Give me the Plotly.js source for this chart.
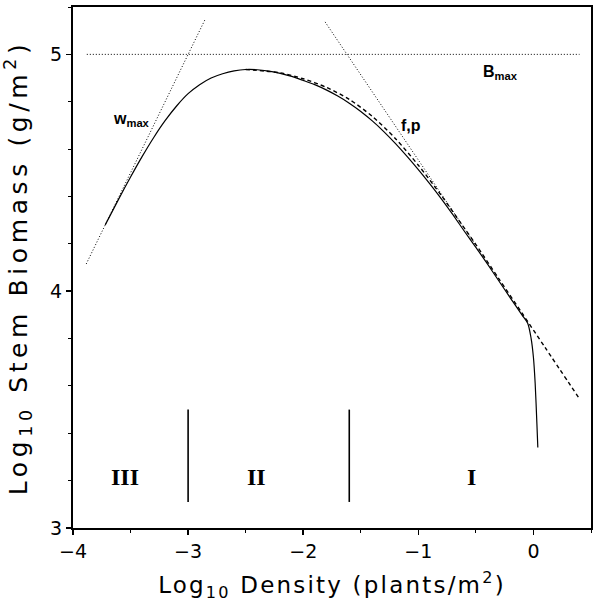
<!DOCTYPE html>
<html>
<head>
<meta charset="utf-8">
<script src="https://cdn.plot.ly/plotly-3.0.1.min.js"></script>
<style>
html,body{margin:0;padding:0;background:#fff;}
.xtitle{letter-spacing:2.2px;}
.ytitle{letter-spacing:4.6px;}
</style>
</head>
<body>
<div id="chart" style="width:596px;height:602px;"></div>
<script>
// Solid model curve
const solidX = [-3.72,-3.6,-3.5,-3.4,-3.3,-3.2,-3.1,-3.0,-2.9,-2.8,-2.7,-2.6,-2.5,-2.4,-2.3,-2.2,-2.1,-2.0,-1.9,-1.8,-1.7,-1.6,-1.5,-1.4,-1.3,-1.2,-1.1,-1.0,-0.9,-0.8,-0.7,-0.6,-0.5,-0.4,-0.3,-0.2,-0.1,-0.05,-0.02,0.0,0.015,0.03,0.038];
const solidY = [4.28,4.392,4.482,4.568,4.648,4.72,4.782,4.834,4.872,4.9,4.918,4.93,4.936,4.935,4.929,4.92,4.907,4.89,4.872,4.85,4.824,4.794,4.759,4.719,4.674,4.624,4.57,4.513,4.453,4.39,4.323,4.253,4.185,4.115,4.043,3.971,3.90,3.865,3.80,3.72,3.61,3.44,3.34];
// Dashed curve
const dashX = [-2.5,-2.2,-2.0,-1.8,-1.6,-1.4,-1.2,-1.0,-0.8,-0.6,-0.5,-0.3,-0.1,0.1,0.39];
const dashY = [4.936,4.922,4.897,4.861,4.81,4.738,4.645,4.532,4.404,4.266,4.197,4.052,3.908,3.763,3.553];
// Dotted reference lines
const bmaxX = [-3.88, 0.40];
const bmaxY = [5.0, 5.0];
const wmaxX = [-3.885, -2.85];
const wmaxY = [4.115, 5.15];
const fpX = [-1.81, -0.5];
const fpY = [5.137, 4.194];
// Phase boundaries
const boundaryX = [-3.0, -1.6];
const boundaryY = [3.11, 3.5];
// Phase labels
const phaseLabels = ['III', 'II', 'I'];
const phaseX = [-3.55, -2.405, -0.54];
const phaseY = [3.216, 3.216, 3.216];

const dotted = {color:'#000', width:1, dash:'1px,2px'};
const traces = [
  {x: solidX, y: solidY, mode:'lines', line:{color:'#000', width:1.2, shape:'spline', smoothing:0.8}},
  {x: dashX, y: dashY, mode:'lines', line:{color:'#000', width:1.4, dash:'4px,3px', shape:'spline', smoothing:0.8}},
  {x: bmaxX, y: bmaxY, mode:'lines', line: dotted},
  {x: wmaxX, y: wmaxY, mode:'lines', line: dotted},
  {x: fpX, y: fpY, mode:'lines', line: dotted}
];
boundaryX.forEach(bx => traces.push({x:[bx,bx], y:boundaryY, mode:'lines', line:{color:'#000', width:1.6}}));

const annotations = phaseLabels.map((t,i) => ({
  x: phaseX[i], y: phaseY[i], text: '<b>' + t + '</b>', showarrow:false,
  font:{family:'Liberation Serif, serif', size:24, color:'#000'}
}));
annotations.push(
  {x:-3.49, y:4.727, text:'<b>w</b><sub><b>max</b></sub>', showarrow:false, font:{family:'Liberation Sans, Arial', size:16, color:'#000'}},
  {x:-0.29, y:4.925, text:'<b>B</b><sub><b>max</b></sub>', showarrow:false, font:{family:'Liberation Sans, Arial', size:16, color:'#000'}},
  {x:-1.06, y:4.70, text:'<b>f,p</b>', showarrow:false, font:{family:'Liberation Sans, Arial', size:16, color:'#000'}}
);

const axFont = {family:'DejaVu Sans, sans-serif', size:19, color:'#000'};
const layout = {
  width:596, height:602,
  margin:{l:73, r:5, t:7, b:74},
  paper_bgcolor:'#fff', plot_bgcolor:'#fff',
  showlegend:false,
  xaxis:{
    range:[-4, 0.5], showgrid:false, zeroline:false,
    showline:true, linewidth:2, linecolor:'#000', mirror:true,
    tickmode:'linear', tick0:-4, dtick:1, ticks:'outside', ticklen:5, tickwidth:1.5, tickcolor:'#000',
    minor:{dtick:0.5, tick0:-4, ticks:'outside', ticklen:3, tickcolor:'#000', tickwidth:1},
    tickfont: axFont,
    title:{text:'Log<sub>10</sub> Density (plants/m<sup>2</sup>)', font:{family:'DejaVu Sans, sans-serif', size:23, color:'#000'}}
  },
  yaxis:{
    range:[3, 5.2], showgrid:false, zeroline:false,
    showline:true, linewidth:2, linecolor:'#000', mirror:true,
    tickmode:'linear', tick0:3, dtick:1, ticks:'outside', ticklen:5, tickwidth:1.5, tickcolor:'#000',
    minor:{dtick:0.2, tick0:3, ticks:'outside', ticklen:3, tickcolor:'#000', tickwidth:1},
    tickfont: axFont,
    title:{text:'Log<sub>10</sub> Stem Biomass (g/m<sup>2</sup>)', font:{family:'DejaVu Sans, sans-serif', size:25, color:'#000'}}
  },
  annotations: annotations
};
Plotly.newPlot('chart', traces, layout, {displayModeBar:false, staticPlot:true});
</script>
</body>
</html>
